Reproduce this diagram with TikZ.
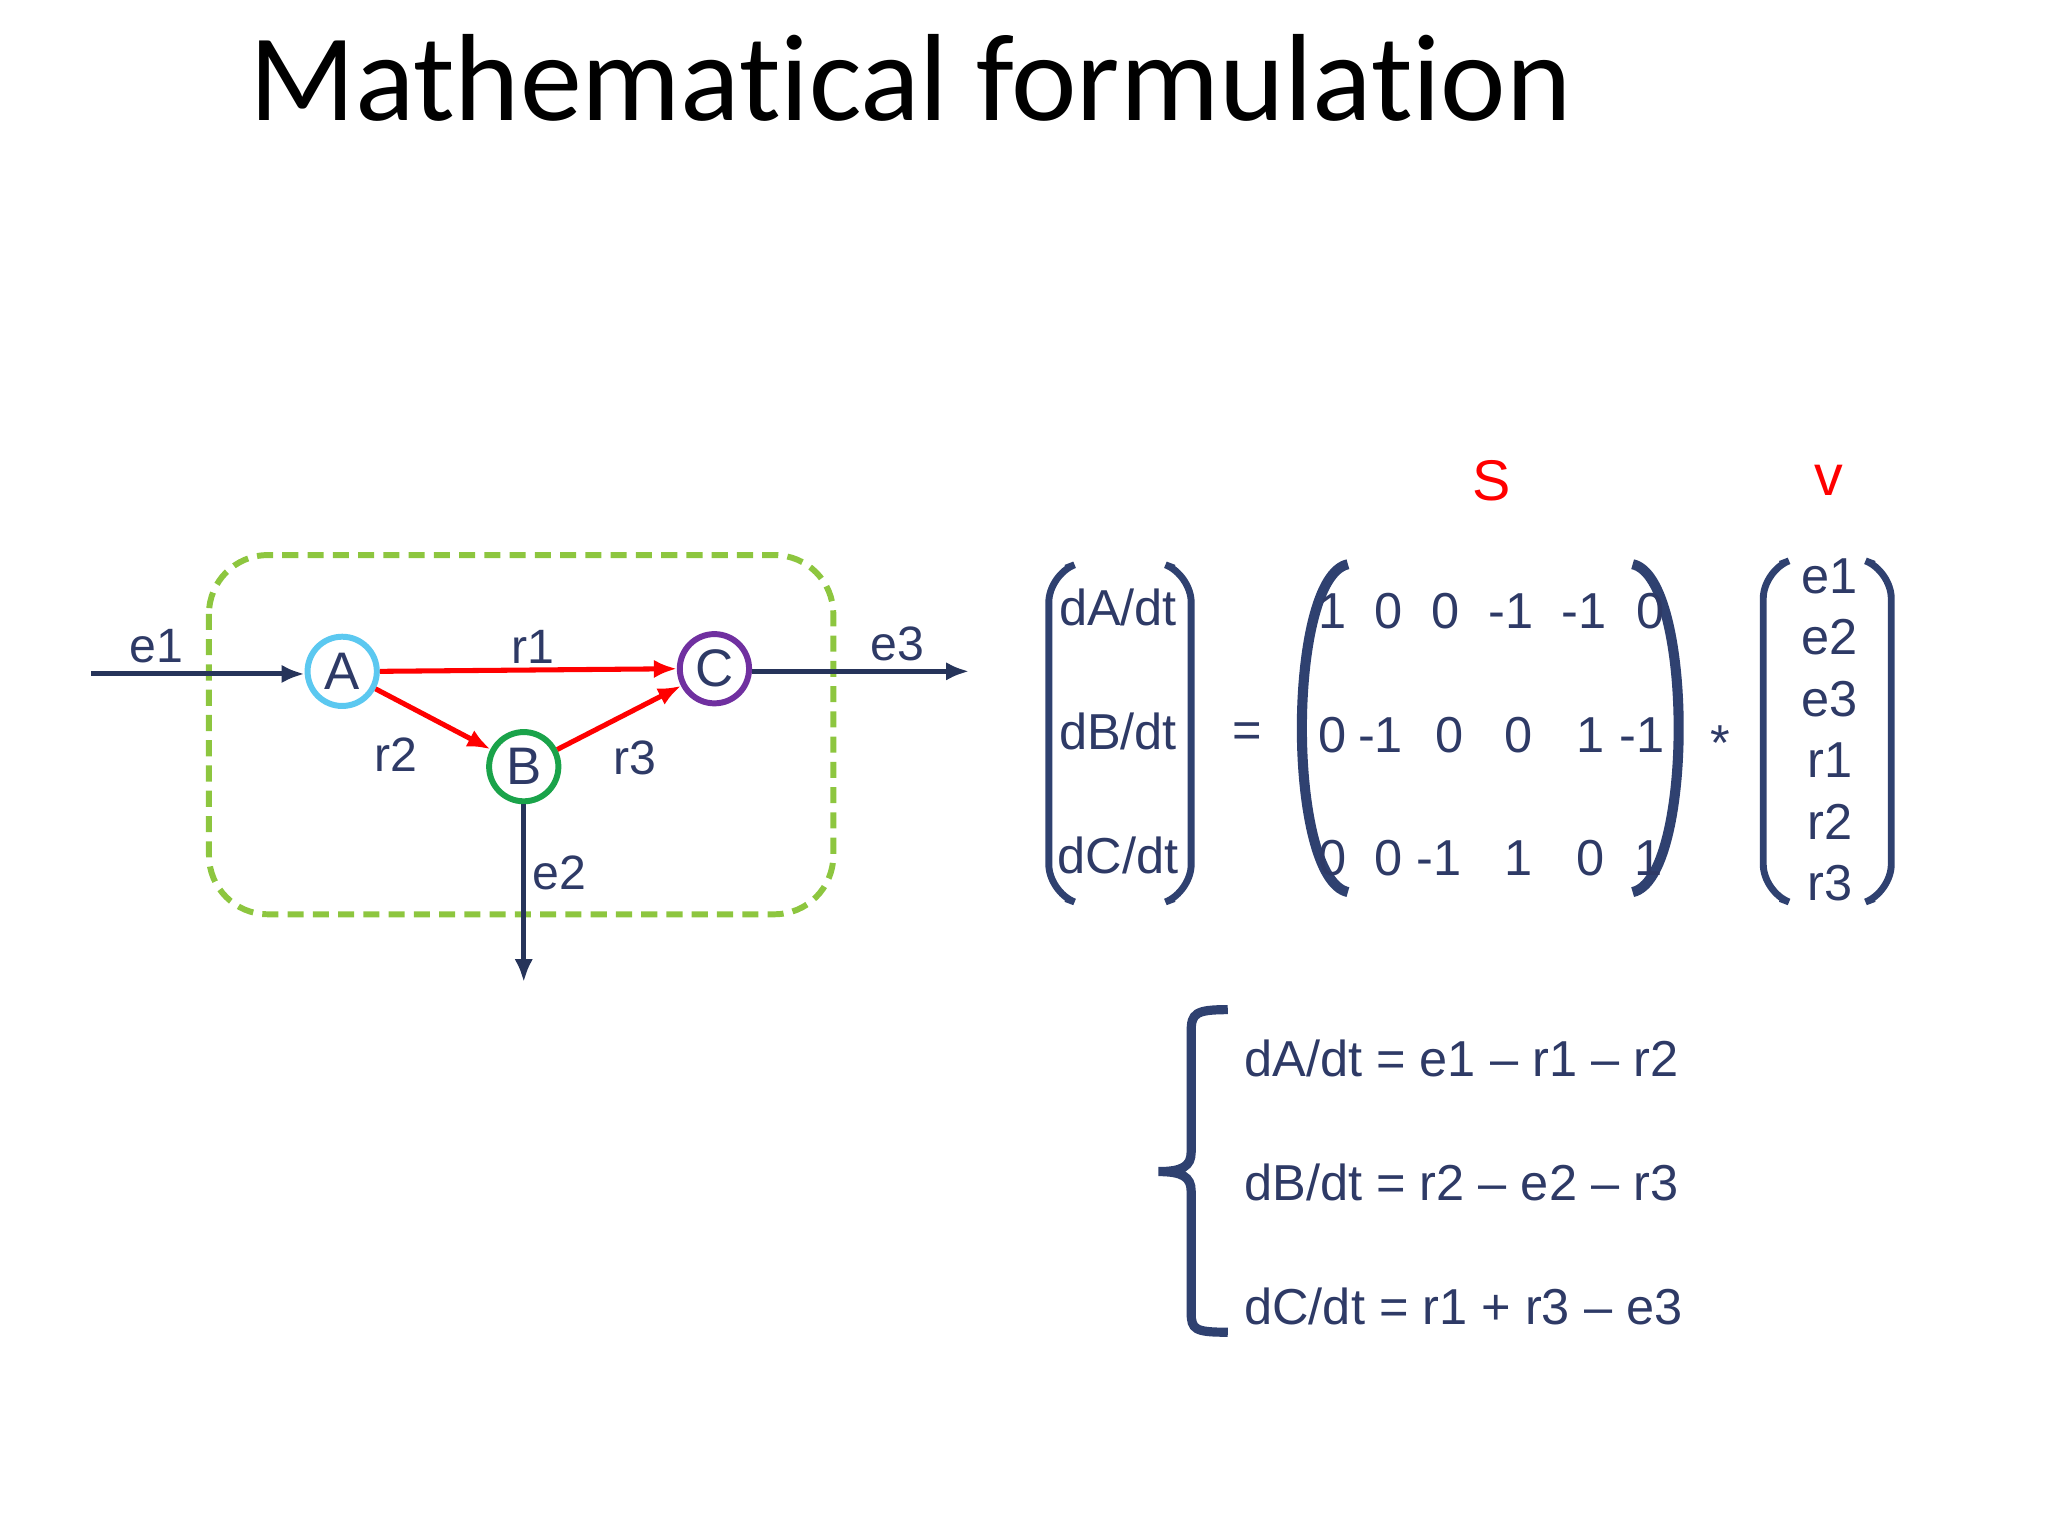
\documentclass[tikz,border=0pt]{standalone}
\usepackage{fontspec}
\setmainfont{Liberation Sans}
\newfontfamily\titlefont[Ligatures={NoCommon,NoRare}]{Carlito}
\usetikzlibrary{arrows.meta}
\definecolor{nb}{HTML}{2F4170}
\definecolor{tx}{HTML}{2E3A66}
\definecolor{gb}{HTML}{8DC63F}
\definecolor{ca}{HTML}{5BC8F0}
\definecolor{cb}{HTML}{1AA34A}
\definecolor{cc}{HTML}{7030A0}
\begin{document}
\begin{tikzpicture}[x=0.01cm,y=-0.01cm,
  lbl/.style={text=tx,font=\fontsize{10.5}{13}\selectfont,inner sep=0},
  mt/.style={text=tx,font=\fontsize{11}{14}\selectfont,inner sep=0},
  circ/.style={circle,draw,line width=1.3pt,minimum size=0.53cm,inner sep=0,text=tx,font=\fontsize{11.5}{14}\selectfont},
  blk/.style={-{Latex[length=5pt,width=4pt]},line width=1.1pt,color=nb!80!black},
  red/.style={-{Latex[length=5pt,width=4pt]},line width=1.1pt,color=red},
  brk/.style={line width=1.5pt,color=nb}]
\useasboundingbox (0,0) rectangle (1568,1176);
\node[anchor=base west,inner sep=0,font=\titlefont\fontsize{27}{32}\selectfont] (title) at (190,92) {Mathematical formulation};
\draw[gb,line width=1.3pt,dash pattern=on 3.5pt off 2pt,rounded corners=0.45cm] (160,425) rectangle (638,700);
\node[circ,draw=ca] (A) at (262,514) {A};
\node[circ,draw=cb] (B) at (401,587) {B};
\node[circ,draw=cc] (C) at (547,512) {C};
\coordinate (e1s) at (70,516);
\coordinate (e3e) at (742,514);
\coordinate (e2e) at (401,752);
\draw[blk] (e1s) -- (e1s -| A.west);
\draw[blk] (C.east |- e3e) -- (e3e);
\draw[blk] (B) -- (e2e);
\draw[red] (A.east) -- (C.west);
\draw[red] (A) -- (B);
\draw[red] (B) -- (C);
\node[lbl] (le1) at (120,495) {e1};
\node[lbl] (lr1) at (408,495) {r1};
\node[lbl] (le3) at (687,493) {e3};
\node[lbl] (lr2) at (303,578) {r2};
\node[lbl] (lr3) at (486,580) {r3};
\node[lbl] (le2) at (428,668) {e2};
% left vector
\draw[brk,rounded corners=6pt] (816,435)--(803,440)--(803,683)--(816,688);
\draw[brk,rounded corners=6pt] (899,435)--(912,440)--(912,683)--(899,688);
\node[mt] (dA) at (856,465) {dA/dt};
\node[mt] (dB) at (856,560) {dB/dt};
\node[mt] (dC) at (856,655) {dC/dt};
\node[mt] (eq) at (955,563) {=};
% S matrix
\draw[brk,line width=2.2pt] (1032,432) .. controls (985,442) and (985,673) .. (1032,683);
\draw[brk,line width=2.2pt] (1250,432) .. controls (1297,442) and (1297,673) .. (1250,683);
\node[text=red,font=\fontsize{12.5}{14}\selectfont,inner sep=0] (S) at (1142,368) {S};
\foreach \x/\t [count=\i] in {1020/1,1063/0,1107/0,1157/-1,1213/-1,1264/0}
  \node[mt] (s1\i) at (\x,468) {\t};
\foreach \x/\t [count=\i] in {1020/0,1057/-1,1110/0,1163/0,1218/1,1257/-1}
  \node[mt] (s2\i) at (\x,563) {\t};
\foreach \x/\t [count=\i] in {1020/0,1063/0,1102/-1,1163/1,1218/0,1262/1}
  \node[mt] (s3\i) at (\x,657) {\t};
\node[mt] (star) at (1317,569) {*};
% v vector
\draw[brk,rounded corners=6pt] (1363,432)--(1350,437)--(1350,683)--(1363,688);
\draw[brk,rounded corners=6pt] (1435,432)--(1448,437)--(1448,683)--(1435,688);
\node[text=red,font=\fontsize{12.5}{14}\selectfont,inner sep=0] (v) at (1400,368) {v};
\foreach \y/\t [count=\i] in {441/e1,488/e2,535/e3,582/r1,629/r2,676/r3}
  \node[mt] (v\i) at (1401,\y) {\t};
% brace
\draw[brk,line width=2pt] (940,773) .. controls (915,773) and (912,776) .. (912,790) -- (912,882) .. controls (912,893) and (905,897) .. (887,897) .. controls (905,897) and (912,901) .. (912,912) -- (912,1005) .. controls (912,1018) and (915,1020) .. (940,1020);
\node[mt,anchor=west] (q1) at (952,810) {dA/dt = e1 – r1 – r2};
\node[mt,anchor=west] (q2) at (952,905) {dB/dt = r2 – e2 – r3};
\node[mt,anchor=west] (q3) at (952,1000) {dC/dt = r1 + r3 – e3};
\end{tikzpicture}
\end{document}
